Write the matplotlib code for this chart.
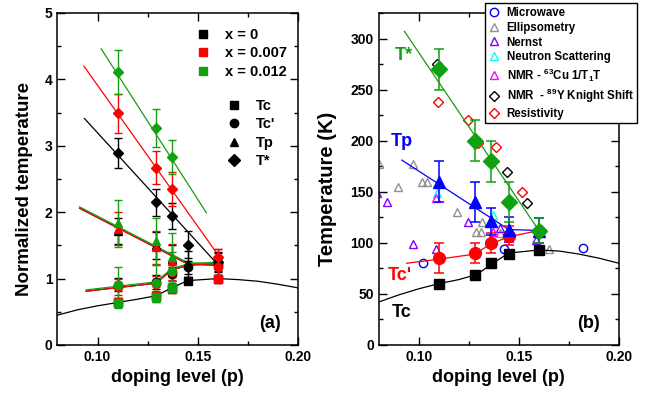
import matplotlib
matplotlib.use("Agg")
import matplotlib.pyplot as plt
from matplotlib.lines import Line2D
from matplotlib.ticker import MultipleLocator, FixedLocator

plt.rcParams['font.family'] = ['Liberation Sans', 'DejaVu Sans']
plt.rcParams['font.weight'] = 'bold'
plt.rcParams['mathtext.fontset'] = 'custom'
plt.rcParams['mathtext.rm'] = 'Liberation Sans:bold'
plt.rcParams['mathtext.it'] = 'Liberation Sans:bold'
plt.rcParams['mathtext.bf'] = 'Liberation Sans:bold'

# ---------------- Panel (a) data: normalized temperatures ----------------
p_x0 = [0.11, 0.129, 0.137, 0.145, 0.16]
tc_x0 = [0.64, 0.74, 0.86, 0.97, 1.00]
tcp_x0 = [0.91, 0.95, 1.07, 1.17, 1.20]
tp_x0 = [1.72, 1.50, 1.30, 1.22, 1.20]
ts_x0 = [2.89, 2.15, 1.94, 1.51, 1.25]
ts_err_x0 = [0.22, 0.20, 0.20, 0.20, 0.13]

p_x7 = [0.11, 0.129, 0.137, 0.16]
tc_x7 = [0.64, 0.74, 0.84, 1.00]
tcp_x7 = [0.88, 0.92, 1.10, 1.18]
tp_x7 = [1.75, 1.47, 1.27, 1.20]
ts_x7 = [3.49, 2.67, 2.35, 1.33]
ts_err_x7 = [0.29, 0.25, 0.25, 0.12]

p_x12 = [0.11, 0.129, 0.137]
tc_x12 = [0.63, 0.73, 0.86]
tcp_x12 = [0.90, 0.93, 1.12]
tp_x12 = [1.83, 1.56, 1.32]
ts_x12 = [4.11, 3.27, 2.83]
ts_err_x12 = [0.33, 0.29, 0.25]

# fitted / guide lines
ts_line_p_x0 = [0.0935, 0.1594]
ts_line_v_x0 = [3.41, 1.23]
ts_line_p_x7 = [0.0932, 0.160]
ts_line_v_x7 = [4.20, 1.36]
ts_line_p_x12 = [0.1018, 0.1543]
ts_line_v_x12 = [4.46, 1.99]
tp_line_p = [0.091, 0.145, 0.160]
tp_line_v = [2.06, 1.22, 1.20]
tcp_line_p = [0.0943, 0.129, 0.137, 0.145, 0.160]
tcp_line_v = [0.81, 0.93, 1.13, 1.20, 1.23]
dome_p = [0.08, 0.09, 0.10, 0.11, 0.12, 0.129, 0.137, 0.145, 0.16, 0.17, 0.18, 0.19, 0.20]
dome_v = [0.45, 0.53, 0.59, 0.64, 0.69, 0.74, 0.86, 0.97, 1.00, 0.985, 0.96, 0.915, 0.86]

# ---------------- Panel (b) data: temperatures (K) ----------------
p_b = [0.11, 0.128, 0.136, 0.145, 0.16]
tc_b = [60, 69, 80, 89, 93]
tcp_p_b = [0.11, 0.128, 0.136, 0.145]
tcp_b = [85, 90, 100, 107]
tcp_err_b = [15, 10, 10, 9]
tp_b = [160, 140, 121, 113, 112]
tp_err_b = [20, 20, 13, 12, 12]
ts_b = [270, 200, 180, 140, 112]
ts_err_b = [20, 20, 20, 20, 12]

tp_line_p_b = [0.0916, 0.145, 0.162]
tp_line_T_b = [181, 113, 112]
ts_line_p_b = [0.0929, 0.159]
ts_line_T_b = [307, 115]
tcp_line_p_b = [0.094, 0.11, 0.128, 0.136, 0.145, 0.16]
tcp_line_T_b = [80, 84, 89, 99, 106, 112]
dome_T_b = [42, 49, 55, 60, 64, 69, 80, 90, 93, 92, 89, 85, 80]

mw_p = [0.102, 0.1425, 0.182]
mw_T = [80, 94, 95]
ell_p = [0.0802, 0.097, 0.0899, 0.1015, 0.104, 0.119, 0.1285, 0.131, 0.1318, 0.1406, 0.165]
ell_T = [177, 177, 155, 160, 160, 130, 110.5, 110.5, 120.6, 110, 93.5]
ner_p = [0.079, 0.084, 0.097, 0.1087, 0.1248, 0.1406, 0.1584]
ner_T = [149, 140, 98.4, 93.5, 120, 114.7, 103]
neu_p = [0.109, 0.137]
neu_T = [149, 127]
cu_p = [0.1087, 0.137]
cu_T = [144, 111]
y_p = [0.109, 0.144, 0.154]
y_T = [275, 169, 139]
res_p = [0.1098, 0.1248, 0.1298, 0.1386, 0.1515, 0.161]
res_T = [238, 220, 198, 194, 150, 113]

BLACK = '#000000'
RED = '#ff0000'
GREEN = '#10a010'
BLUE = '#0000ff'

fig = plt.figure(figsize=(6.51, 3.95), dpi=100)
ax1 = fig.add_axes([0.0883, 0.1266, 0.3695, 0.8405])
ax2 = fig.add_axes([0.5816, 0.1266, 0.3692, 0.8405])

def style_axes(ax):
    ax.tick_params(which='both', direction='in', top=True, right=True, width=1.0,
                   labelsize=10)
    ax.tick_params(which='major', length=5.5)
    ax.tick_params(which='minor', length=3)
    for s in ax.spines.values():
        s.set_linewidth(1.1)
    ax.set_xlim(0.08, 0.20)
    ax.xaxis.set_major_locator(FixedLocator([0.10, 0.15, 0.20]))
    ax.xaxis.set_minor_locator(FixedLocator([0.125, 0.175]))
    ax.xaxis.set_major_formatter(matplotlib.ticker.FormatStrFormatter('%.2f'))
    ax.set_xlabel('doping level (p)', fontsize=13, fontweight='bold', labelpad=4)

# ---------------- Panel (a) ----------------
ax = ax1
lw = 0.9
ax.plot(dome_p, dome_v, color=BLACK, lw=lw, zorder=2)
for (lp, lv, c) in [(ts_line_p_x0, ts_line_v_x0, BLACK), (ts_line_p_x7, ts_line_v_x7, RED),
                    (ts_line_p_x12, ts_line_v_x12, GREEN)]:
    ax.plot(lp, lv, color=c, lw=lw, zorder=2)
for c, dv in [(BLACK, 0.0), (RED, 0.0), (GREEN, 0.02)]:
    ax.plot(tp_line_p, [v + dv for v in tp_line_v], color=c, lw=lw, zorder=2)
    ax.plot(tcp_line_p, [v + dv for v in tcp_line_v], color=c, lw=lw, zorder=2)

ms = 5.5
ekw = dict(capsize=3, elinewidth=1.0, capthick=1.0, linestyle='none', zorder=3)
series = [
    (p_x0, tc_x0, tcp_x0, tp_x0, ts_x0, ts_err_x0, BLACK, 0.05, 0.1, 0.2),
    (p_x7, tc_x7, tcp_x7, tp_x7, ts_x7, ts_err_x7, RED, 0.06, 0.12, 0.25),
    (p_x12, tc_x12, tcp_x12, tp_x12, ts_x12, ts_err_x12, GREEN, 0.08, 0.28, 0.36),
]
for (pp, tc, tcp, tp, ts, tse, c, e_tc, e_tcp, e_tp) in series:
    ax.errorbar(pp, tc, yerr=e_tc, marker='s', ms=ms, color=c, mec=c, **ekw)
    ax.errorbar(pp, tcp, yerr=e_tcp, marker='o', ms=ms + 0.5, color=c, mec=c, **ekw)
    ax.errorbar(pp, tp, yerr=e_tp, marker='^', ms=ms + 0.5, color=c, mec=c, **ekw)
    ax.errorbar(pp, ts, yerr=tse, marker='D', ms=ms, color=c, mec=c, **ekw)

ax.set_ylim(0, 5)
ax.yaxis.set_major_locator(MultipleLocator(1))
ax.yaxis.set_minor_locator(MultipleLocator(0.5))
style_axes(ax)
ax.set_ylabel('Normalized temperature', fontsize=13.5, fontweight='bold')
ax.yaxis.set_label_coords(-0.102, 0.47)

x_labels = ['x = 0', 'x = 0.007', 'x = 0.012']
x_colors = [BLACK, RED, GREEN]
h1 = [Line2D([], [], ls='none', marker='s', ms=6, color=c) for c in x_colors]
leg1 = ax.legend(h1, x_labels, loc='upper left', bbox_to_anchor=(0.575, 0.955),
                 frameon=False, borderpad=0, borderaxespad=0, handlelength=1.0,
                 handletextpad=1.0, labelspacing=0.3, prop={'size': 10.5, 'weight': 'bold'})
ax.add_artist(leg1)
shape_labels = ['Tc', "Tc'", 'Tp', 'T*']
shape_markers = ['s', 'o', '^', 'D']
h2 = [Line2D([], [], ls='none', marker=m, ms=6, color=BLACK) for m in shape_markers]
ax.legend(h2, shape_labels, loc='upper left', bbox_to_anchor=(0.705, 0.741),
          frameon=False, borderpad=0, borderaxespad=0, handlelength=1.0,
          handletextpad=1.0, labelspacing=0.3, prop={'size': 10.5, 'weight': 'bold'})
ax.text(0.884, 0.066, '(a)', transform=ax.transAxes, fontsize=13, fontweight='bold',
        ha='center', va='center')

# ---------------- Panel (b) ----------------
ax = ax2
oms = 6
omk = dict(ls='none', mfc='none', mew=1.0, ms=oms, zorder=2)
ax.plot(mw_p, mw_T, marker='o', mec=BLUE, label='Microwave', **omk)
ax.plot(ell_p, ell_T, marker='^', mec='#909090', label='Ellipsometry', **omk)
ax.plot(ner_p, ner_T, marker='^', mec='#8000ff', label='Nernst', **omk)
ax.plot(neu_p, neu_T, marker='^', mec='#00ffff', label='Neutron Scattering', **omk)
ax.plot(cu_p, cu_T, marker='^', mec='#ff00ff', label=r'NMR - $^{63}$Cu 1/T$_1$T', **omk)
ax.plot(y_p, y_T, marker='D', mec=BLACK, label=r'NMR  - $^{89}$Y Knight Shift',
        **dict(omk, ms=5.5))
ax.plot(res_p, res_T, marker='D', mec=RED, label='Resistivity', **dict(omk, ms=5.5))

ax.plot(dome_p, dome_T_b, color=BLACK, lw=lw, zorder=3)
ax.plot(tcp_line_p_b, tcp_line_T_b, color=RED, lw=lw, zorder=3)
ax.plot(tp_line_p_b, tp_line_T_b, color=BLUE, lw=lw, zorder=3)
ax.plot(ts_line_p_b, ts_line_T_b, color=GREEN, lw=lw, zorder=3)

ekw2 = dict(capsize=3.5, elinewidth=1.1, capthick=1.1, linestyle='none', zorder=4)
ax.errorbar(p_b, tc_b, marker='s', ms=7.5, color=BLACK, **ekw2)
ax.errorbar(tcp_p_b, tcp_b, yerr=tcp_err_b, marker='o', ms=8.5, color=RED, **ekw2)
ax.errorbar(p_b, tp_b, yerr=tp_err_b, marker='^', ms=8.5, color=BLUE, **ekw2)
ax.errorbar(p_b, ts_b, yerr=ts_err_b, marker='D', ms=8, color=GREEN, **ekw2)

ax.set_ylim(0, 325)
ax.yaxis.set_major_locator(MultipleLocator(50))
ax.yaxis.set_minor_locator(MultipleLocator(25))
style_axes(ax)
ax.set_ylabel('Temperature (K)', fontsize=14.5, fontweight='bold')
ax.yaxis.set_label_coords(-0.175, 0.47)

ax.text(0.0927, 283, 'T*', color=GREEN, fontsize=13, fontweight='bold', ha='center', va='center')
ax.text(0.0917, 199, 'Tp', color=BLUE, fontsize=13, fontweight='bold', ha='center', va='center')
ax.text(0.0907, 68.5, "Tc'", color=RED, fontsize=13, fontweight='bold', ha='center', va='center')
ax.text(0.0917, 32, 'Tc', color=BLACK, fontsize=13, fontweight='bold', ha='center', va='center')
ax.text(0.875, 0.066, '(b)', transform=ax.transAxes, fontsize=13, fontweight='bold',
        ha='center', va='center')

leg = ax.legend(loc='lower left', bbox_to_anchor=(0.7445, 0.6886), bbox_transform=fig.transFigure,
                prop={'size': 8.3, 'weight': 'bold'}, frameon=True, fancybox=False,
                edgecolor=BLACK, framealpha=1, borderpad=0.3, handlelength=1.0,
                handletextpad=0.6, labelspacing=0.25, borderaxespad=0)
leg.get_frame().set_linewidth(1.0)

fig.savefig('out.png', dpi=100)
